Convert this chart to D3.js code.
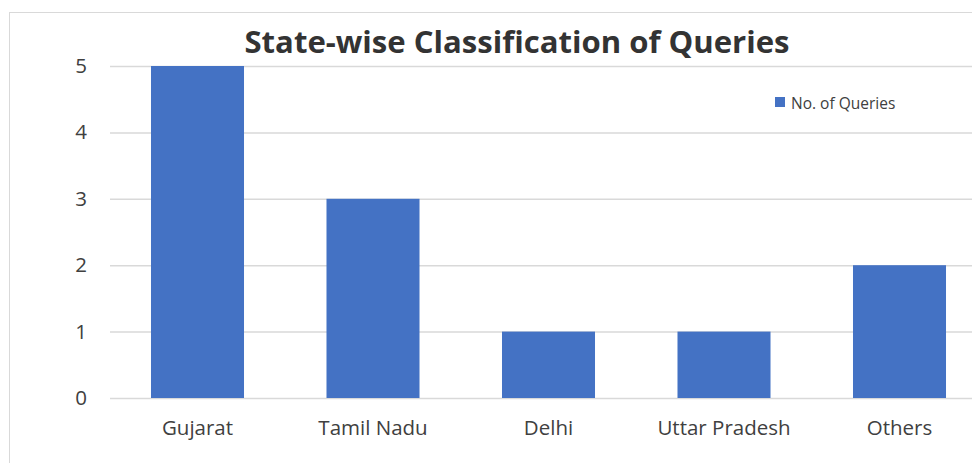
<!DOCTYPE html>
<html>
<head>
<meta charset="utf-8">
<script src="https://cdn.jsdelivr.net/npm/d3@7"></script>
<style>
  body { margin: 0; background: #fff; }
  text { font-family: "Open Sans", "Noto Sans", sans-serif; }
</style>
</head>
<body>
<div id="chart"></div>
<script>
var states = ['Gujarat', 'Tamil Nadu', 'Delhi', 'Uttar Pradesh', 'Others'];
var queries = [5, 3, 1, 1, 2];
var yTicks = [0, 1, 2, 3, 4, 5];
var seriesName = 'No. of Queries';
var title = 'State-wise Classification of Queries';

var width = 972, height = 463;
var svg = d3.select('#chart').append('svg')
  .attr('width', width).attr('height', height);

// outer chart border (cropped on right/bottom)
svg.append('rect')
  .attr('x', 9.5).attr('y', 12.5)
  .attr('width', 1000).attr('height', 500)
  .attr('fill', 'none').attr('stroke', '#d9d9d9');

var x = d3.scaleBand()
  .domain(states)
  .range([109.75, 987.25])
  .paddingInner(0.47)
  .paddingOuter(0.235);

var y = d3.scaleLinear().domain([0, 5]).range([398, 66]);

// gridlines
svg.append('g').selectAll('line').data(yTicks).enter().append('line')
  .attr('x1', 110).attr('x2', width)
  .attr('y1', function(d) { return y(d) + 0.5; })
  .attr('y2', function(d) { return y(d) + 0.5; })
  .attr('stroke', '#d9d9d9').attr('stroke-width', 1.5);

// bars
svg.append('g').selectAll('rect').data(queries).enter().append('rect')
  .attr('x', function(d, i) { return x(states[i]); })
  .attr('y', function(d) { return y(d); })
  .attr('width', x.bandwidth())
  .attr('height', function(d) { return y(0) - y(d); })
  .attr('fill', '#4472c4');

// y axis labels
var yAxis = d3.axisLeft(y).tickValues(yTicks).tickFormat(d3.format('d')).tickSize(0).tickPadding(0);
var ya = svg.append('g').attr('transform', 'translate(87,0)').call(yAxis);
ya.select('.domain').remove();
ya.selectAll('text')
  .attr('font-size', 20.5).attr('fill', '#404040')
  .style('font-family', '"Open Sans", sans-serif');

// x axis labels
var xAxis = d3.axisBottom(x).tickSize(0).tickPadding(0);
var xa = svg.append('g').attr('transform', 'translate(0,420)').call(xAxis);
xa.select('.domain').remove();
xa.selectAll('text')
  .attr('font-size', 20.5).attr('fill', '#404040')
  .style('font-family', '"Open Sans", sans-serif');

// title
svg.append('text')
  .attr('x', 517).attr('y', 53)
  .attr('text-anchor', 'middle')
  .attr('font-size', 31).attr('font-weight', 'bold')
  .attr('fill', '#333')
  .attr('textLength', 545)
  .attr('lengthAdjust', 'spacingAndGlyphs')
  .text(title);

// legend
svg.append('rect')
  .attr('x', 775).attr('y', 97).attr('width', 10).attr('height', 10)
  .attr('fill', '#4472c4');
svg.append('text')
  .attr('x', 791).attr('y', 108.5)
  .attr('font-size', 15.5).attr('fill', '#404040')
  .text(seriesName);
</script>
</body>
</html>
